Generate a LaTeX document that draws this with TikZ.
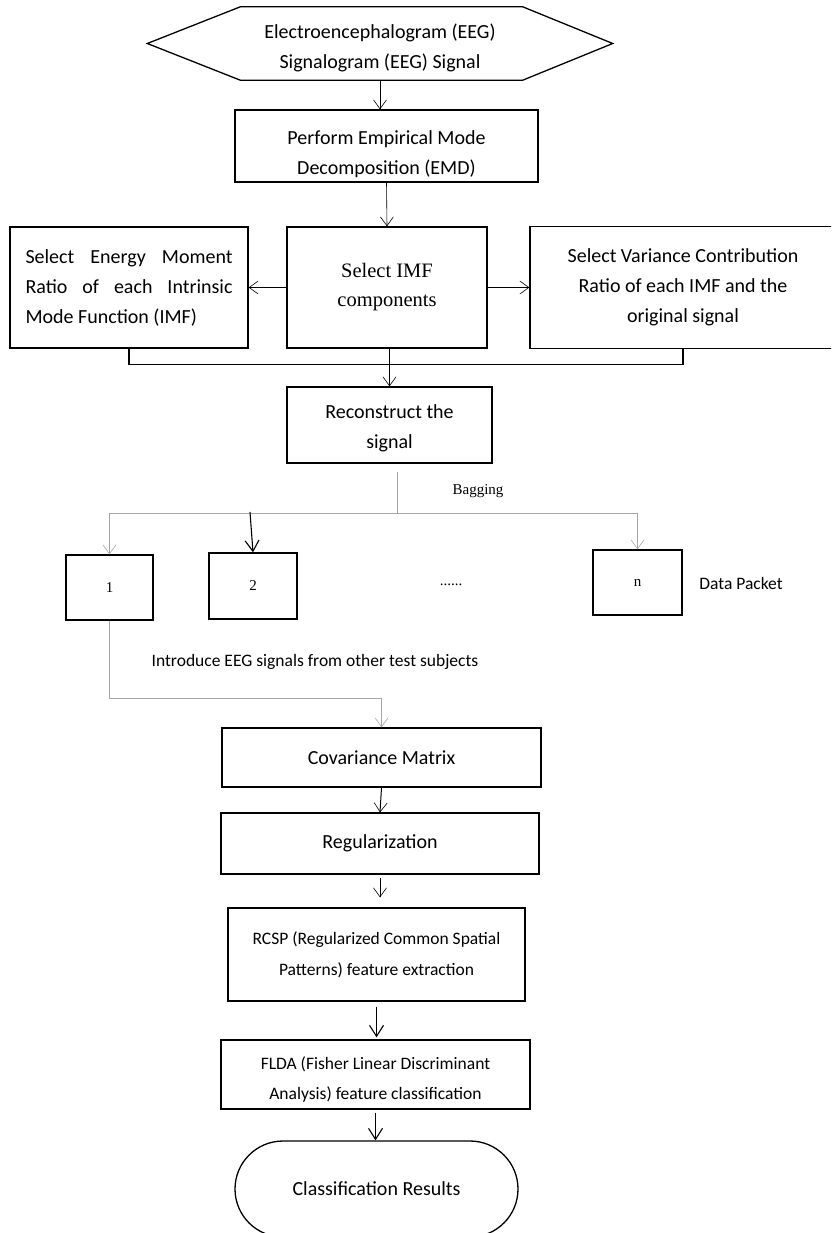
\documentclass[tikz,border=0pt]{standalone}
\usepackage{fontspec}
\setmainfont{Carlito}
\newfontfamily\calfont{Carlito}
\newfontfamily\tnrfont{Liberation Serif}
\usetikzlibrary{arrows.meta,shapes.misc}
\tikzset{
  x=1pt,y=-1pt,
  boxline/.style={line width=1.3pt},
  pbox/.style={draw, line width=1.3pt, inner sep=0pt, align=center,
    font=\calfont\fontsize{20}{30}\selectfont},
  sbox/.style={pbox, font=\calfont\fontsize{17.5}{31}\selectfont},
  serifbox/.style={draw, line width=1.3pt, inner sep=0pt, align=center,
    font=\tnrfont\fontsize{15}{20}\selectfont},
  arr/.style={line width=0.6pt, -{Straight Barb[length=9pt,width=13pt,line width=0.6pt]}},
  tarr/.style={line width=1.1pt, -{Straight Barb[length=11pt,width=14pt,line width=1.1pt]}},
  gline/.style={draw=black!35, line width=0.9pt},
  garr/.style={gline, -{Straight Barb[length=9pt,width=13pt,line width=0.6pt]}},
  lbl/.style={inner sep=0pt, font=\calfont\fontsize{17.5}{20}\selectfont},
  slbl/.style={inner sep=0pt, font=\tnrfont\fontsize{15}{20}\selectfont},
}
\begin{document}
\begin{tikzpicture}
\useasboundingbox (0,0) rectangle (831,1233);
\clip (0,0) rectangle (831,1233);
% hexagon
\node[inner sep=0pt, minimum width=465pt, minimum height=73pt, align=center,
  text height=55pt, text depth=4pt,
  font=\calfont\fontsize{20}{30}\selectfont] (hex) at (380,43.5)
  {Electroencephalogram (EEG)\\Signalogram (EEG) Signal};
\draw[boxline] (hex.west) -- ([xshift=93pt]hex.north west) -- ([xshift=-90pt]hex.north east)
  -- (hex.east) -- ([xshift=-90pt]hex.south east) -- ([xshift=93pt]hex.south west) -- cycle;
% boxes
\node[pbox, minimum width=303pt, minimum height=72pt, text height=61pt, text depth=4pt] (emd) at (386.5,146)
  {Perform Empirical Mode\\Decomposition (EMD)};
\node[pbox, minimum width=238pt, minimum height=121pt, align=left] (left) at (129,287.5)
  {\makebox[207pt][s]{Select Energy Moment}\\\makebox[207pt][s]{Ratio of each Intrinsic}\\Mode Function (IMF)};
\node[serifbox, minimum width=200pt, minimum height=121pt,
  font=\tnrfont\fontsize{20.5}{29}\selectfont] (mid) at (387,287.5)
  {Select IMF\\components};
\node[pbox, minimum width=306pt, minimum height=122pt] (right) at (683,287.5)
  {Select Variance Contribution\\Ratio of each IMF and the\\original signal};
\node[pbox, minimum width=205pt, minimum height=76pt, text height=50pt, text depth=4pt] (recon) at (389.5,425)
  {Reconstruct the\\signal};
\node[serifbox, minimum width=87pt, minimum height=65pt] (b1) at (109.5,587.5) {1};
\node[serifbox, minimum width=88pt, minimum height=66pt] (b2) at (253,586) {2};
\node[serifbox, minimum width=89pt, minimum height=65pt] (bn) at (637.5,582.5) {n};
\node[pbox, minimum width=319pt, minimum height=59pt] (cov) at (381.5,757.5) {Covariance Matrix};
\node[pbox, minimum width=318pt, minimum height=61pt] (reg) at (380,843.5) {Regularization};
\node[sbox, minimum width=297pt, minimum height=93pt] (rcsp) at (376.5,954.5)
  {RCSP (Regularized Common Spatial\\Patterns) feature extraction};
\node[sbox, minimum width=309pt, minimum height=69pt, text height=52.5pt, text depth=3.5pt,
  font=\calfont\fontsize{17.5}{30}\selectfont] (flda) at (375.5,1074.5)
  {FLDA (Fisher Linear Discriminant\\Analysis) feature classification};
\node[draw, rounded rectangle, line width=1.3pt, inner sep=0pt, minimum width=283pt, minimum height=96pt,
  font=\calfont\fontsize{20}{22}\selectfont] (res) at (376.5,1189) {Classification Results};
% labels
\node[slbl] (bag) at (478,491) {Bagging};
\node[slbl] (dots) at (451,585) {......};
\node[lbl] (dp) at (741,583) {Data Packet};
\node[lbl] (intro) at (315,662) {Introduce EEG signals from other test subjects};
% connectors
\draw[arr] (hex.south) -- (hex.south |- emd.north);
\draw[arr] (emd.south) -- (mid.north);
\draw[arr] (mid.west) -- (left.east);
\draw[arr] (mid.east) -- (right.west |- mid.east);
\draw[line width=1.2pt] (left.south) -- ++(0,16) -| (right.south);
\draw[arr] (recon.north |- mid.south) -- (recon.north);
\coordinate (bagtop) at (397,472);
\coordinate (bagsplit) at (397,513);
\draw[gline] (bagtop) -- (bagsplit);
\draw[garr] (bagsplit) -| (b1.north);
\draw[garr] (bagsplit) -| (bn.north);
\coordinate (b2src) at (250,512);
\draw[tarr] (b2src) -- (b2.north);
\coordinate (introbend) at (109.5,698);
\draw[garr] (b1.south) -- (introbend) -| (cov.north);
\draw[arr, line width=1pt] (cov.south) -- (reg.north);
\draw[arr, line width=1pt, shorten >=10pt, shorten <=3pt] (reg.south) -- (reg.south |- rcsp.north);
\draw[tarr, shorten <=5pt, shorten >=2pt] (rcsp.south) -- (rcsp.south |- flda.north);
\draw[tarr, shorten <=3pt] (flda.south) -- (flda.south |- res.north);
\end{tikzpicture}
\end{document}
